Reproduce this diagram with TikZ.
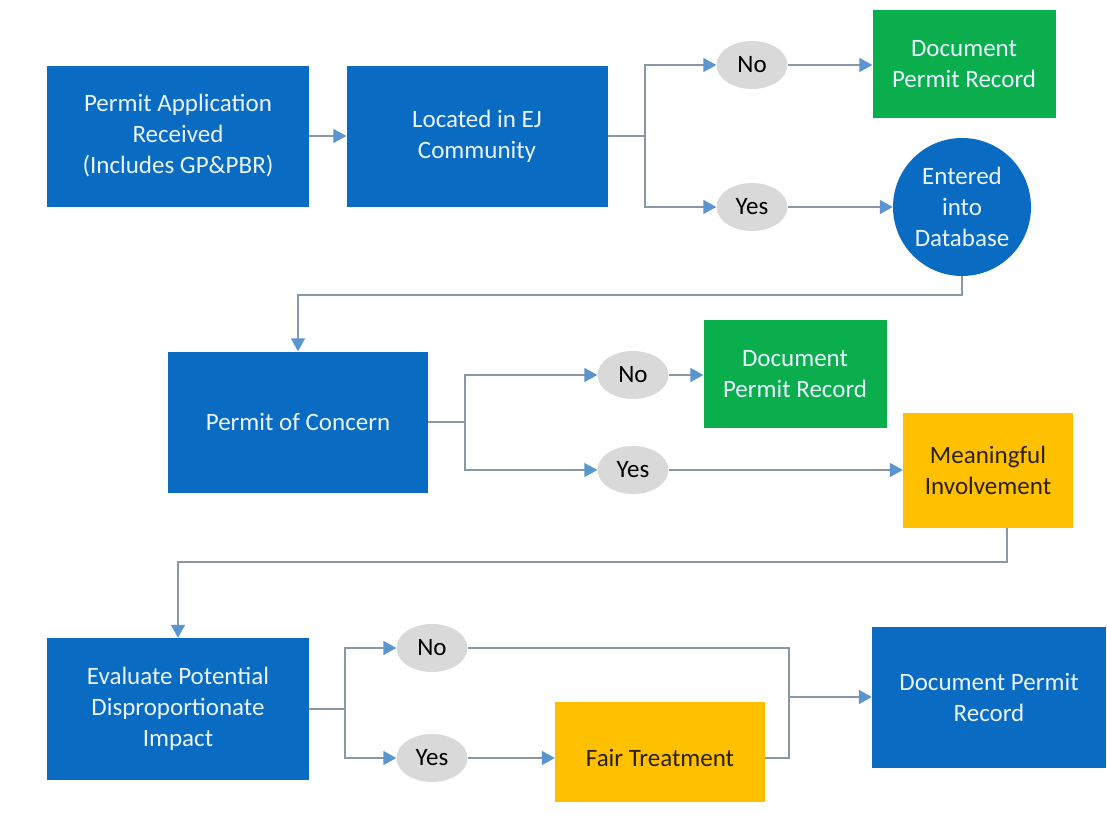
\documentclass[tikz,border=0pt]{standalone}
\usepackage{fontspec}
\setmainfont{Carlito}
\usetikzlibrary{arrows.meta,shapes.geometric}
\definecolor{boxblue}{HTML}{0A6BC2}
\definecolor{boxgreen}{HTML}{0AAE4C}
\definecolor{boxyellow}{HTML}{FFC000}
\definecolor{ovalgray}{HTML}{D9D9D9}
\definecolor{linegray}{HTML}{8A97A6}
\definecolor{tipblue}{HTML}{5B95CF}
\definecolor{lighttext}{HTML}{EAF4FF}
\definecolor{darktext}{HTML}{2B2000}
\tikzset{
  every node/.style={font=\fontsize{25}{31}\selectfont, align=center, inner sep=0pt},
  bluebox/.style={fill=boxblue, text=lighttext, minimum width=#1, minimum height=141},
  greenbox/.style={fill=boxgreen, text=lighttext, minimum width=183, minimum height=108},
  yellowbox/.style={fill=boxyellow, text=darktext},
  oval/.style={ellipse, fill=ovalgray, text=black, minimum width=71, minimum height=48},
  conn/.style={draw=linegray, line width=1.6pt},
  arr/.style={conn, -{Triangle[length=13,width=14,fill=tipblue,color=tipblue]}},
}
\begin{document}
\begin{tikzpicture}[x=1pt,y=-1pt]
\useasboundingbox (0,0) rectangle (1107,814);
% nodes
\node[bluebox=262] (app) at (178,136) {Permit Application\\Received\\(Includes GP\&PBR)};
\node[bluebox=261] (ej) at (477,136) {Located in EJ\\Community};
\node[oval] (no1) at (752,65) {No};
\node[oval] (yes1) at (752,207) {Yes};
\node[greenbox] (doc1) at (964,64) {Document\\Permit Record};
\node[circle, fill=boxblue, text=lighttext, minimum size=138] (db) at (962,207) {Entered\\into\\Database};
\node[bluebox=260] (poc) at (298,422) {Permit of Concern};
\node[oval] (no2) at (633,375) {No};
\node[oval] (yes2) at (633,470) {Yes};
\node[greenbox] (doc2) at (795,374) {Document\\Permit Record};
\node[yellowbox, minimum width=170, minimum height=115] (mi) at (988,470) {Meaningful\\Involvement};
\node[bluebox=262, minimum height=142] (eval) at (178,709) {Evaluate Potential\\Disproportionate\\Impact};
\node[oval] (no3) at (432,648) {No};
\node[oval] (yes3) at (432,758) {Yes};
\node[yellowbox, minimum width=210, minimum height=100] (fair) at (660,752) {\raisebox{0pt}[0pt][0pt]{\lower 14pt\hbox{Fair Treatment}}};
\node[bluebox=234] (doc3) at (989,697) {Document Permit\\Record};
% helper coordinates
\coordinate (b1) at (645,136);
\coordinate (b2) at (465,422);
\coordinate (b3) at (345,709);
\coordinate (m3) at (789,697);
% connectors
\draw[arr] (app) -- (ej);
\draw[conn] (ej.east) -- (b1);
\draw[arr] (b1) |- (no1);
\draw[arr] (b1) |- (yes1);
\draw[arr] (no1) -- (doc1.west |- no1);
\draw[arr] (yes1) -- (db);
\draw[arr] (db.south) -- ++(0,19) -| (poc.north);
\draw[conn] (poc.east) -- (b2);
\draw[arr] (b2) |- (no2);
\draw[arr] (b2) |- (yes2);
\draw[arr] (no2) -- (doc2.west |- no2);
\draw[arr] (yes2) -- (mi.west |- yes2);
\draw[arr] (mi.south -| 1007,0) -- (1007,562) -| (eval.north);
\draw[conn] (eval.east) -- (b3);
\draw[arr] (b3) |- (no3);
\draw[arr] (b3) |- (yes3);
\draw[arr] (yes3) -- (fair.west |- yes3);
\draw[conn] (no3) -| (m3);
\draw[conn] (fair.east |- yes3) -| (m3);
\draw[arr] (m3) -- (doc3);
\end{tikzpicture}
\end{document}
